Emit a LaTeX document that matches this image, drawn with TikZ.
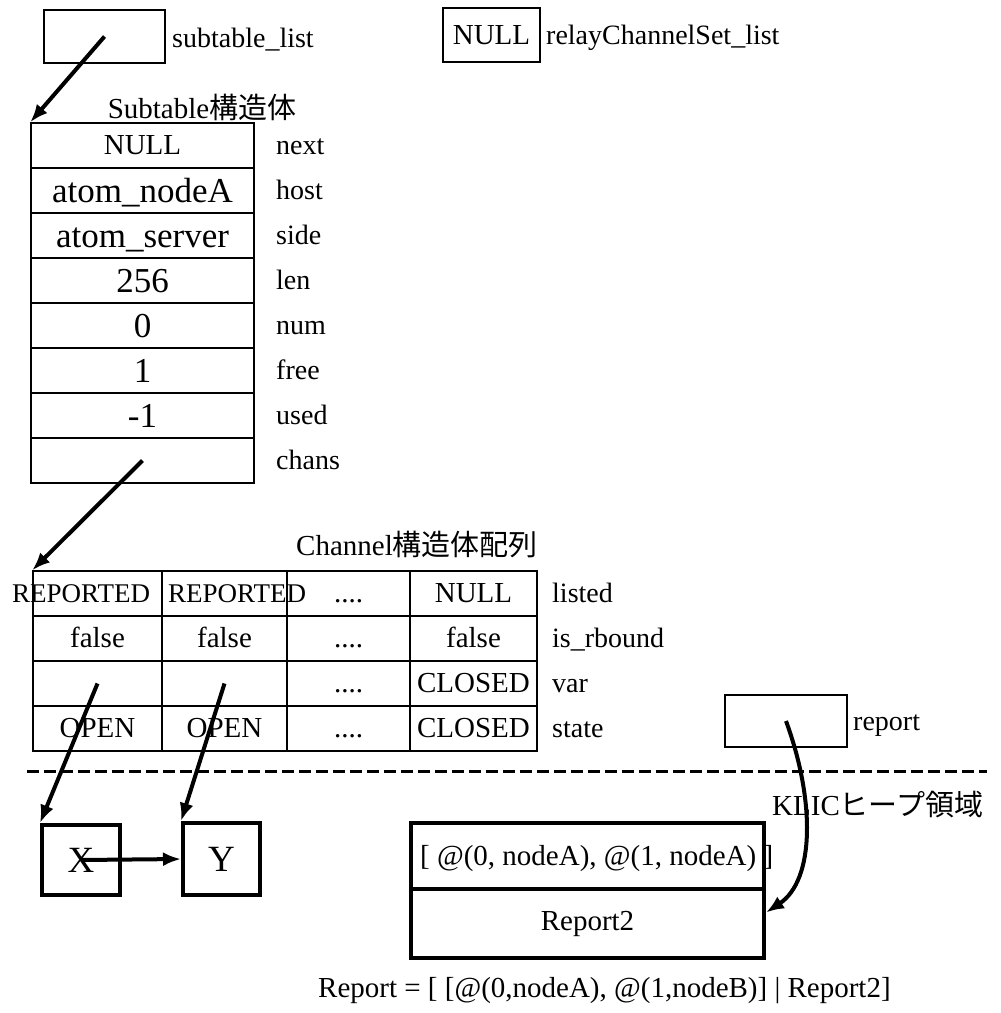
\documentclass[tikz,border=0pt]{standalone}
\usepackage{fontspec}
\setmainfont{Liberation Serif}
\newfontfamily\cjk{Noto Sans CJK JP}
\usetikzlibrary{arrows.meta,calc}
\tikzset{
  cell/.style={draw,line width=1.5pt,inner sep=0pt,minimum height=45pt,
               text height=21pt,text depth=3pt,font=\fontsize{29}{29}\selectfont},
  subcell/.style={cell,minimum width=223pt},
  big/.style={text height=26pt,text depth=3pt,font=\fontsize{35}{35}\selectfont},
  chan/.style={cell,minimum width=#1},
  fld/.style={anchor=west,inner sep=0pt,text height=21pt,text depth=3pt,
              font=\fontsize{28}{28}\selectfont},
  ttl/.style={inner sep=0pt,font=\fontsize{29}{29}\selectfont},
  ptr/.style={-{Latex[length=18pt,width=14pt]},line width=4pt},
  heap/.style={draw,line width=4pt,inner sep=0pt,font=\fontsize{29}{29}\selectfont},
  divider/.style={dash pattern=on 12pt off 5pt,line width=3pt},
}

\begin{document}
\begin{tikzpicture}[x=1pt,y=-1pt]
  \useasboundingbox (0,0) rectangle (1001,1013);
  % list heads
  \node[cell,minimum width=121pt,minimum height=53pt] (lst) at (104.5,36.5) {};
  \node[fld] (lstl) at (172,38) {subtable\_list};
  \node[cell,minimum width=97pt,minimum height=54pt] (rcs) at (491.5,35) {NULL};
  \node[fld] (rcsl) at (546,35) {relayChannelSet\_list};

  % Subtable
  \node[ttl] (stitle) at (202,107) {Subtable{\cjk 構造体}};
  \node[subcell] (s1) at (142.5,145.5) {NULL};
  \node[subcell,big] (s2) at (142.5,190.5) {atom\_nodeA};
  \node[subcell,big] (s3) at (142.5,235.5) {atom\_server};
  \node[subcell,big] (s4) at (142.5,280.5) {256};
  \node[subcell,big] (s5) at (142.5,325.5) {0};
  \node[subcell,big] (s6) at (142.5,370.5) {1};
  \node[subcell,big] (s7) at (142.5,415.5) {-1};
  \node[subcell] (s8) at (142.5,460.5) {};
  \node[fld] (f1) at (276,145.5) {next};
  \node[fld] (f2) at (276,190.5) {host};
  \node[fld] (f3) at (276,235.5) {side};
  \node[fld] (f4) at (276,280.5) {len};
  \node[fld] (f5) at (276,325.5) {num};
  \node[fld] (f6) at (276,370.5) {free};
  \node[fld] (f7) at (276,415.5) {used};
  \node[fld] (f8) at (276,460.5) {chans};

  % Channel array
  \node[ttl] (ctitle) at (417,545) {Channel{\cjk 構造体配列}};
  \node[chan=129pt] (c11) at (97.5,593.5) {};
  \node[chan=125pt] (c12) at (224.5,593.5) {};
  \node[chan=123pt] (c13) at (348.5,593.5) {....};
  \node[chan=127pt] (c14) at (473.5,593.5) {NULL};
  \node[chan=129pt] (c21) at (97.5,638.5) {false};
  \node[chan=125pt] (c22) at (224.5,638.5) {false};
  \node[chan=123pt] (c23) at (348.5,638.5) {....};
  \node[chan=127pt] (c24) at (473.5,638.5) {false};
  \node[chan=129pt] (c31) at (97.5,683.5) {};
  \node[chan=125pt] (c32) at (224.5,683.5) {};
  \node[chan=123pt] (c33) at (348.5,683.5) {....};
  \node[chan=127pt] (c34) at (473.5,683.5) {CLOSED};
  \node[chan=129pt] (c41) at (97.5,728.5) {OPEN};
  \node[chan=125pt] (c42) at (224.5,728.5) {OPEN};
  \node[chan=123pt] (c43) at (348.5,728.5) {....};
  \node[chan=127pt] (c44) at (473.5,728.5) {CLOSED};
  \node[fld,font=\fontsize{27}{27}\selectfont] (rp1) at (12,593.5) {REPORTED};
  \node[fld,font=\fontsize{27}{27}\selectfont] (rp2) at (168,593.5) {REPORTED};
  \node[fld] (g1) at (552,593.5) {listed};
  \node[fld] (g2) at (552,638.5) {is\_rbound};
  \node[fld] (g3) at (552,683.5) {var};
  \node[fld] (g4) at (552,728.5) {state};

  \node[cell,minimum width=122pt,minimum height=52pt] (rep) at (786,721) {};
  \node[fld] (repl) at (853,721) {report};

  \draw[divider] (27,771) -- (987,771);
  \node[ttl,anchor=west] (klic) at (772,805) {KLIC{\cjk ヒープ領域}};

  % heap objects
  \node[heap,minimum width=78pt,minimum height=70pt,font=\fontsize{37}{37}\selectfont] (x) at (81,860) {X};
  \node[heap,minimum width=77pt,minimum height=72pt,font=\fontsize{37}{37}\selectfont] (y) at (221.5,859) {Y};
  \node[heap,minimum width=353pt,minimum height=66pt] (h1) at (587.5,856) {};
  \node[heap,minimum width=353pt,minimum height=69pt] (h2) at (587.5,923.5) {Report2};
  \node[fld,font=\fontsize{29}{29}\selectfont] (htxt) at (420,856) {[ @(0, nodeA), @(1, nodeA) ]};
  \node[fld,font=\fontsize{29}{29}\selectfont] (form) at (318,988) {Report = [ [@(0,nodeA), @(1,nodeB)] | Report2]};

  \draw[ptr] (lst.center) -- (s1.north west);
  \draw[ptr] (s8.center) -- (c11.north west);
  \draw[ptr] (c31.center) -- (x.north west);
  \draw[ptr] (c32.center) -- (y.north west);
  \draw[ptr] (x.center) -- (y.west);
  \draw[ptr] (rep.center) .. controls (815,800) and (815,880) .. ($(h2.north east)!0.35!(h2.south east)$);
\end{tikzpicture}
\end{document}
